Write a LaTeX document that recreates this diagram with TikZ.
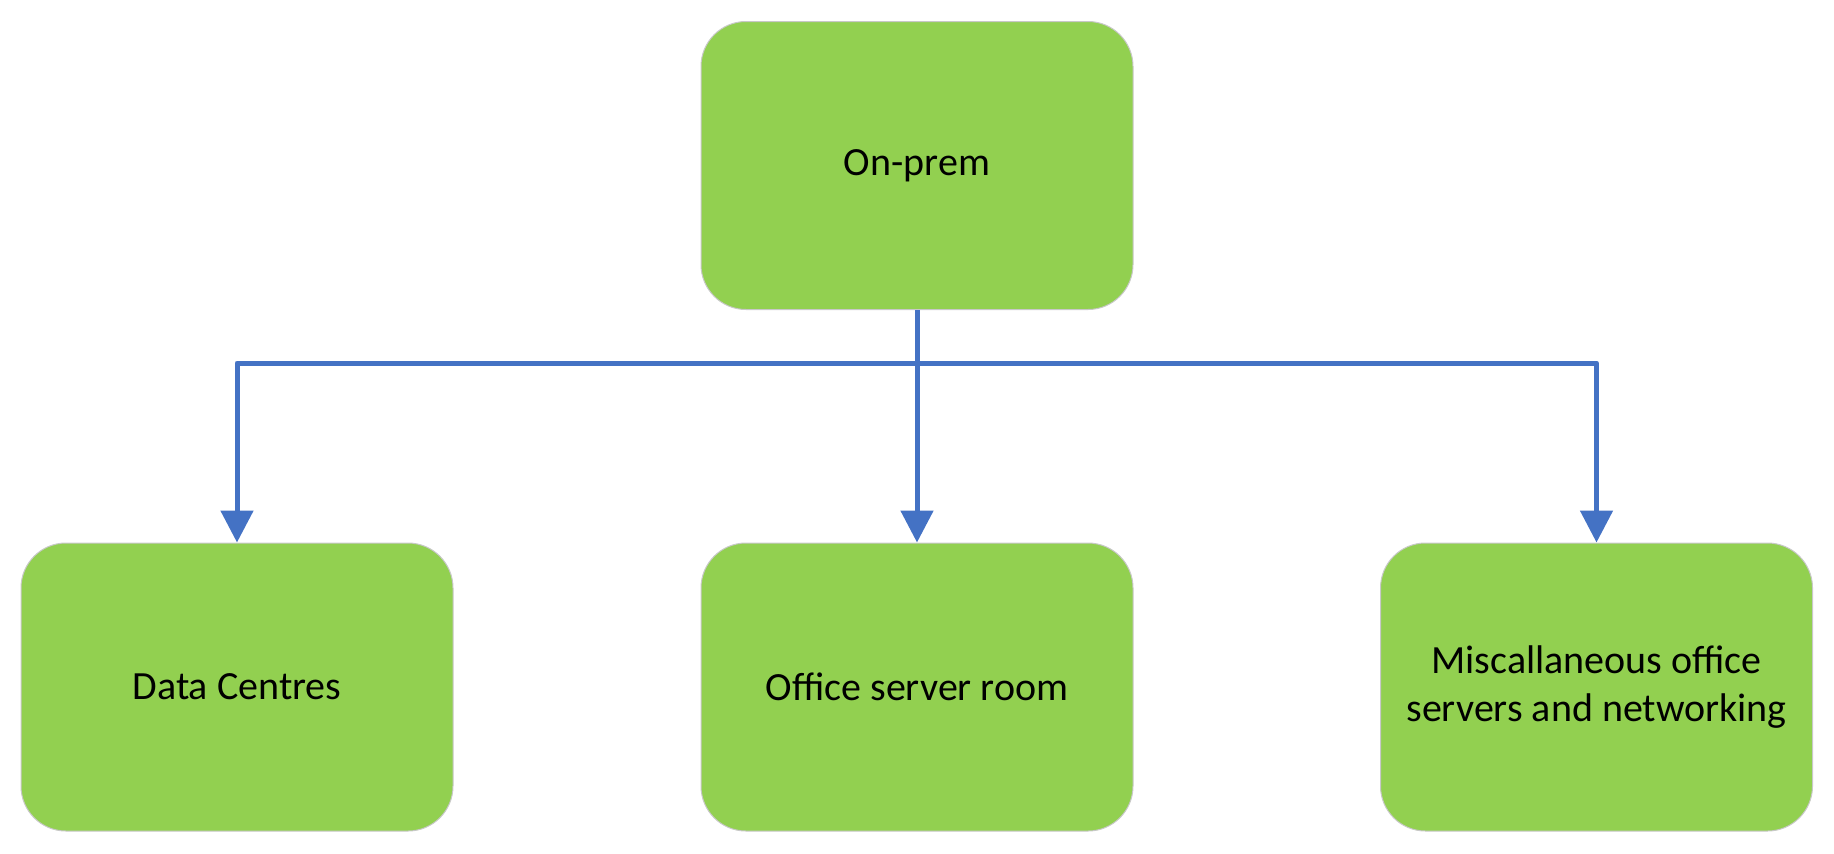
\documentclass[tikz,border=0pt]{standalone}
\usepackage{fontspec}
\setmainfont{Carlito}
\usetikzlibrary{arrows.meta}
\definecolor{boxgreen}{HTML}{92D050}
\definecolor{linkblue}{HTML}{4472C4}
\definecolor{boxedge}{HTML}{C8C8C8}
\tikzset{
  px/.style={x=0.5pt,y=-0.5pt},
  greenbox/.style={rectangle, rounded corners=22.5pt, fill=boxgreen, draw=boxedge, line width=0.5pt,
    minimum width=216pt, minimum height=144pt, inner sep=0pt, align=center,
    font=\fontsize{20pt}{24pt}\selectfont, text=black},
  link/.style={draw=linkblue, line width=2.5pt, line join=round,
    -{Triangle[length=16pt,width=16pt]}}
}
\begin{document}
\begin{tikzpicture}[px]
\useasboundingbox (0,0) rectangle (1834,853);
\node[greenbox] (top) at (917,165.5) {On-prem};
\node[greenbox] (dc) at (237,687) {Data Centres};
\node[greenbox] (osr) at (917,687) {Office server room};
\node[greenbox] (misc) at (1596.5,687) {Miscallaneous office\\servers and networking};
\coordinate (bus) at (917,363);
\draw[link] (top.south) -- (osr.north);
\draw[link] (bus) -| (dc.north);
\draw[link] (bus) -| (misc.north);
\end{tikzpicture}
\end{document}
